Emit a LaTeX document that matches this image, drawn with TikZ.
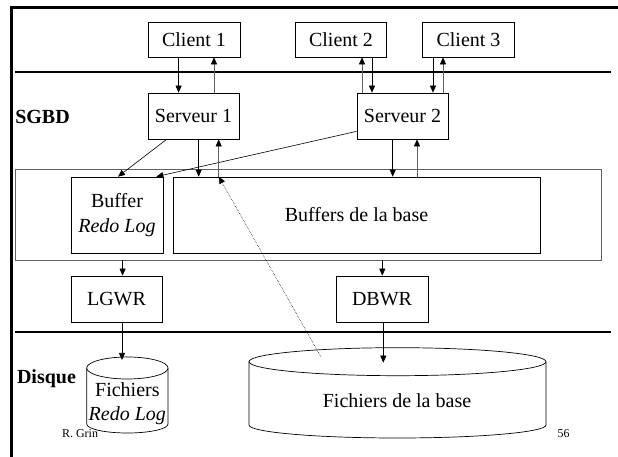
\documentclass[tikz,border=0pt]{standalone}
\usepackage{fontspec}
\setmainfont{Liberation Serif}
\usetikzlibrary{arrows.meta,calc}
\begin{document}
\begin{tikzpicture}[x=1pt,y=1pt,
  txt/.style={font=\fontsize{20}{24}\selectfont, inner sep=0pt, align=center},
  box/.style={txt, draw, line width=0.7pt},
  arr/.style={-{Triangle[length=7pt,width=6pt,color=black]}, line width=0.6pt},
  uparr/.style={arr, draw=gray!75!black},
  sep/.style={line width=2.6pt},
  lbl/.style={font=\bfseries\fontsize{20}{24}\selectfont, inner sep=0pt},
  foot/.style={font=\fontsize{12}{14}\selectfont, inner sep=0pt},
  cyl/.style={line width=0.7pt, fill=white}]
\useasboundingbox (0,0) rectangle (618,457);
\fill[white] (0,0) rectangle (618,457);
% frame and separators
\draw[sep] (11.7,0) -- (11.7,449.7) -- (618,449.7);
\draw[sep] (15,385) -- (611,385);
\draw[sep] (15,125) -- (611,125);
% labels
\node[lbl] (sgbd) at (42.5,340) {SGBD};
\node[lbl] (disque) at (46.5,78) {Disque};
% clients
\node[box, minimum width=92pt, minimum height=35pt] (c1) at (194,417.5) {Client 1};
\node[box, minimum width=91pt, minimum height=35pt] (c2) at (341,417.5) {Client 2};
\node[box, minimum width=92pt, minimum height=35pt] (c3) at (468.5,417.5) {Client 3};
% servers
\node[box, minimum width=91pt, minimum height=46pt] (s1) at (193.5,341) {Serveur 1};
\node[box, minimum width=91pt, minimum height=46pt] (s2) at (402.5,341) {Serveur 2};
% SGA
\node[draw=gray!75!black, line width=0.7pt, minimum width=586pt, minimum height=91pt, inner sep=0pt] (sga) at (308,242.5) {};
\node[box, minimum width=92pt, minimum height=76pt, font=\fontsize{20}{25}\selectfont] (br) at (117,242) {Buffer\\\textit{Redo Log}};
\node[box, minimum width=367pt, minimum height=76pt] (bb) at (356.5,242) {Buffers de la base};
% writers
\node[box, minimum width=91pt, minimum height=46pt] (lg) at (116.5,158) {LGWR};
\node[box, minimum width=92pt, minimum height=46pt] (db) at (382,158) {DBWR};
% cylinders
\draw[cyl] (86.7,89) -- (86.7,33) arc[start angle=180, end angle=360, x radius=40.65, y radius=9] -- (168,89);
\draw[cyl] (127.35,89) ellipse[x radius=40.65, y radius=11];
\draw[cyl] (249,95.3) -- (249,32) arc[start angle=180, end angle=360, x radius=148.5, y radius=13] -- (546,95.3);
\draw[cyl] (397.5,95.3) ellipse[x radius=148.5, y radius=14];
\node[txt, font=\fontsize{20}{24}\selectfont] (frl) at (127.35,53) {Fichiers\\\textit{Redo Log}};
\node[txt] (fb) at (397,56.3) {Fichiers de la base};
\coordinate (cylA) at (122,97);
\coordinate (cylB) at (383.3,94.3);
\coordinate (dotS) at (321,100);
% footer
\node[foot] (auth) at (80,23) {R. Grin};
\node[foot] (page) at (563.5,23) {56};
% x positions of vertical connectors
\coordinate (x1) at (178.6,0);
\coordinate (x2) at (214,0);
\coordinate (x3) at (362,0);
\coordinate (x4) at (372,0);
\coordinate (x5) at (433,0);
\coordinate (x6) at (443,0);
\coordinate (x7) at (198.7,0);
\coordinate (x8) at (218.7,0);
\coordinate (x9) at (392.7,0);
\coordinate (x10) at (417,0);
\coordinate (x11) at (122.6,0);
\coordinate (x12) at (382.3,0);
% client <-> server
\draw[arr] (x1 |- c1.south) -- (x1 |- s1.north);
\draw[uparr] (x2 |- s1.north) -- (x2 |- c1.south);
\draw[uparr] (x3 |- s2.north) -- (x3 |- c2.south);
\draw[arr] (x4 |- c2.south) -- (x4 |- s2.north);
\draw[arr] (x5 |- c3.south) -- (x5 |- s2.north);
\draw[uparr] (x6 |- s2.north) -- (x6 |- c3.south);
% server <-> buffers
\draw[arr] ($(s1.south west)+(19,0)$) -- ($(br.north)+(1,0)$);
\draw[arr] ($(s2.south west)+(0,8)$) -- ($(br.north east)+(-7,0)$);
\draw[arr] (x7 |- s1.south) -- (x7 |- bb.north);
\draw[uparr] (x8 |- bb.north) -- (x8 |- s1.south);
\draw[arr] (x9 |- s2.south) -- (x9 |- bb.north);
\draw[uparr] (x10 |- bb.north) -- (x10 |- s2.south);
% buffers -> writers
\draw[arr] (x11 |- sga.south) -- (x11 |- lg.north);
\draw[arr] (x12 |- sga.south) -- (x12 |- db.north);
% writers -> disk
\draw[arr] (cylA |- lg.south) -- (cylA);
\draw[arr] (cylB |- db.south) -- (cylB);
% dotted read
\draw[arr, densely dotted, line width=0.5pt] (dotS) -- (x8 |- bb.north);
\end{tikzpicture}
\end{document}
